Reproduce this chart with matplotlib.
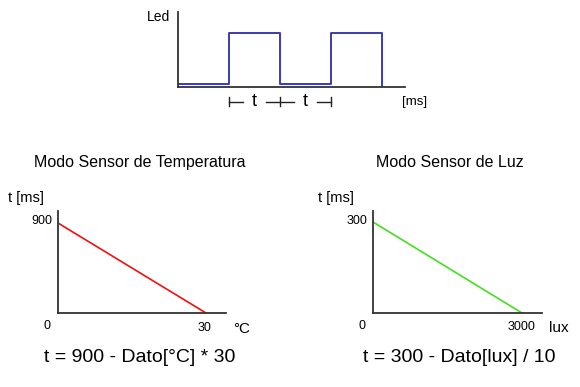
import numpy as np
import matplotlib.pyplot as plt

plt.rcParams['font.family'] = ['Liberation Sans', 'DejaVu Sans']

# square wave of the led (time in units of t, level 0..1)
led_time = [0, 1, 1, 2, 2, 3, 3, 4, 4]
led_level = [0.05, 0.05, 1, 1, 0.05, 0.05, 1, 1, 0]

# temperature mode: t = 900 - dato*30
temp_x = [0, 30]
temp_t = [900, 0]

# light mode: t = 300 - dato/10
lux_x = [0, 3000]
lux_t = [300, 0]

W, H = 580, 387
fig = plt.figure(figsize=(W / 100, H / 100), dpi=100)


def px_axes(x0, y0, x1, y1):
    # axes box from pixel coords (top-left origin)
    ax = fig.add_axes([x0 / W, 1 - y1 / H, (x1 - x0) / W, (y1 - y0) / H])
    for s in ['top', 'right']:
        ax.spines[s].set_visible(False)
    for s in ['left', 'bottom']:
        ax.spines[s].set_color('#333333')
        ax.spines[s].set_linewidth(1.3)
    ax.set_xticks([])
    ax.set_yticks([])
    ax.patch.set_alpha(0)
    return ax


# top chart
ax0 = px_axes(178, 12, 405, 87)
ax0.plot(led_time, led_level, color='#3b3bb0', lw=1.4)
ax0.set_xlim(0, 227 / 51)
ax0.set_ylim(0, 75 / 54)
fig.text(158 / W, 1 - 17 / H, 'Led', fontsize=10, ha='center', va='center')
fig.text(415 / W, 1 - 102 / H, '[ms]', fontsize=9.5, ha='center', va='center')
yb = -0.27
lk = dict(color='#222222', lw=1, clip_on=False)
for xv in [1, 2, 3]:
    ax0.plot([xv, xv], [yb - 0.08, yb + 0.08], **lk)
ax0.plot([1, 1.28], [yb, yb], **lk)
ax0.plot([1.72, 2.28], [yb, yb], **lk)
ax0.plot([2.72, 3], [yb, yb], **lk)
ax0.text(1.5, yb, 't', fontsize=13, ha='center', va='center')
ax0.text(2.5, yb, 't', fontsize=13, ha='center', va='center')

# temperature chart
ax1 = px_axes(58, 211, 226, 313)
ax1.plot(temp_x, temp_t, color='#ee1111', lw=1.2)
ax1.set_xlim(0, 30 * 168 / 148)
ax1.set_ylim(0, 900 * 102 / 90)
fig.text(140 / W, 1 - 162 / H, 'Modo Sensor de Temperatura', fontsize=11.5, ha='center', va='center')
fig.text(8 / W, 1 - 198 / H, 't [ms]', fontsize=10.5, ha='left', va='center')
fig.text(42 / W, 1 - 221 / H, '900', fontsize=9, ha='center', va='center')
fig.text(47 / W, 1 - 326 / H, '0', fontsize=9, ha='center', va='center')
fig.text(205 / W, 1 - 328 / H, '30', fontsize=9, ha='center', va='center')
fig.text(242 / W, 1 - 329 / H, '°C', fontsize=11, ha='center', va='center')
fig.text(140 / W, 1 - 357 / H, 't = 900 - Dato[°C] * 30', fontsize=14, ha='center', va='center')

# light chart
ax2 = px_axes(373, 211, 542, 313)
ax2.plot(lux_x, lux_t, color='#44dd22', lw=1.2)
ax2.set_xlim(0, 3000 * 169 / 149)
ax2.set_ylim(0, 300 * 102 / 91)
fig.text(450 / W, 1 - 162 / H, 'Modo Sensor de Luz', fontsize=11.5, ha='center', va='center')
fig.text(318 / W, 1 - 198 / H, 't [ms]', fontsize=10.5, ha='left', va='center')
fig.text(357 / W, 1 - 221 / H, '300', fontsize=9, ha='center', va='center')
fig.text(362 / W, 1 - 326 / H, '0', fontsize=9, ha='center', va='center')
fig.text(522 / W, 1 - 327 / H, '3000', fontsize=9, ha='center', va='center')
fig.text(549 / W, 1 - 328 / H, 'lux', fontsize=11, ha='left', va='center')
fig.text(459 / W, 1 - 357 / H, 't = 300 - Dato[lux] / 10', fontsize=14, ha='center', va='center')

fig.savefig('out.png', dpi=100)
